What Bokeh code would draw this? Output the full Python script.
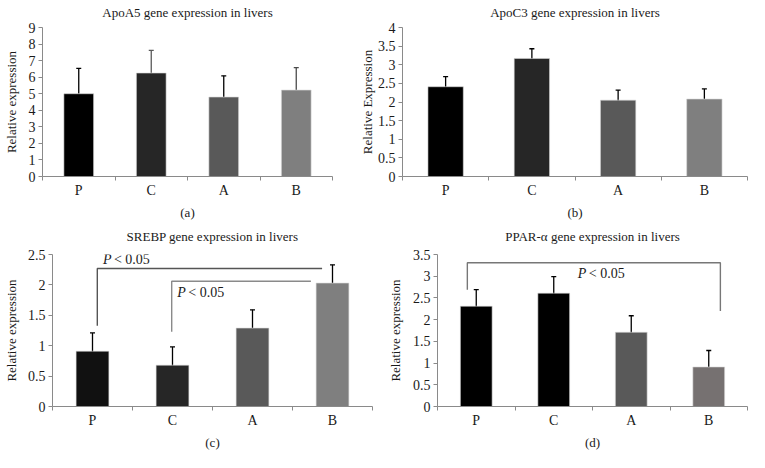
from bokeh.plotting import figure
from bokeh.models import (FixedTicker, Range1d, Whisker, TeeHead, ColumnDataSource, Title)
from bokeh.layouts import column, row
from bokeh.core.properties import value
from bokeh.embed import file_html
from bokeh.resources import INLINE

# ---------------- data ----------------
categories = ["P", "C", "A", "B"]

apoa5_vals = [5.0, 6.25, 4.8, 5.22]
apoa5_errs = [1.53, 1.37, 1.28, 1.36]
apoa5_ticks = [0, 1, 2, 3, 4, 5, 6, 7, 8, 9]

apoc3_vals = [2.41, 3.17, 2.05, 2.08]
apoc3_errs = [0.27, 0.26, 0.27, 0.27]
apoc3_ticks = [0, 0.5, 1, 1.5, 2, 2.5, 3, 3.5, 4]

srebp_vals = [0.91, 0.68, 1.29, 2.03]
srebp_errs = [0.30, 0.30, 0.30, 0.30]
srebp_ticks = [0, 0.5, 1, 1.5, 2, 2.5]

ppara_vals = [2.31, 2.61, 1.71, 0.91]
ppara_errs = [0.38, 0.38, 0.38, 0.38]
ppara_ticks = [0, 0.5, 1, 1.5, 2, 2.5, 3, 3.5]

# significance brackets: x_left, x_right, y_top, y_left_end, y_right_end, text_x, text_y
srebp_brackets = [
    (0.56, 3.37, 2.27, 1.33, 2.27, 0.63, 2.41),
    (1.49, 3.23, 2.06, 1.23, 2.06, 1.56, 1.88),
]
ppara_brackets = [
    (0.385, 3.65, 3.31, 2.69, 2.20, 1.81, 3.07),
]

FONT = "Liberation Serif"
AXIS_GRAY = "#8a8a8a"


def make_panel(title, ylabel, letter, vals, errs, ticks, colors, ecolors,
               width, height, left, right, top, bottom, both_caps=True,
               label_standoff=10, spacer_size="6px",
               brackets=None, bracket_colors=None):
    p = figure(width=width, height=height, output_backend="svg",
               toolbar_location=None, tools="", title=None,
               x_range=Range1d(0, len(categories)),
               y_range=Range1d(0, ticks[-1]),
               min_border_left=left, min_border_right=right,
               min_border_top=top, min_border_bottom=bottom)
    p.outline_line_color = None
    p.xgrid.visible = False
    p.ygrid.visible = False
    p.background_fill_color = "white"
    p.border_fill_color = "white"

    # small blank spacer between frame and title, then the title itself
    p.add_layout(Title(text=" ", text_font_size=spacer_size, standoff=0), "above")
    p.add_layout(Title(text=title, align="center", text_font=FONT,
                       text_font_style="normal", text_font_size="13px",
                       text_color="#1a1a1a", standoff=0), "above")

    xs = [i + 0.5 for i in range(len(categories))]
    upper = [v + e for v, e in zip(vals, errs)]
    lower = [v - e for v, e in zip(vals, errs)] if both_caps else list(vals)
    src = ColumnDataSource(dict(x=xs, top=vals, upper=upper, lower=lower,
                                color=colors, ecol=ecolors))
    p.vbar(x="x", top="top", width=0.41, bottom=0, source=src,
           fill_color="color", line_color="#d8d8d8", line_width=0.6)

    w = Whisker(base="x", upper="upper", lower="lower", source=src,
                line_color="ecol", line_width=1.3,
                upper_head=TeeHead(size=5, line_color="ecol", line_width=1.3),
                lower_head=(TeeHead(size=5, line_color="ecol", line_width=1.3)
                            if both_caps else None))
    p.add_layout(w)

    if brackets:
        for (xl, xr, yt, yl, yr, tx, ty), bc in zip(brackets, bracket_colors):
            p.line(x=[xl, xl, xr, xr], y=[yl, yt, yt, yr],
                   line_color=bc, line_width=1.4)
            p.text(x=[tx], y=[ty], text=["P"], text_font=value(FONT),
                   text_font_style="italic", text_font_size="14px",
                   text_baseline="middle", text_align="left",
                   text_color="#1a1a1a")
            p.text(x=[tx], y=[ty], text=["< 0.05"], text_font=value(FONT),
                   text_font_size="14px", x_offset=11,
                   text_baseline="middle", text_align="left",
                   text_color="#1a1a1a")

    # x axis: labels at centres, ticks at boundaries
    xa = p.xaxis[0]
    xa.ticker = FixedTicker(ticks=xs, minor_ticks=list(range(len(categories) + 1)))
    xa.major_label_overrides = {x: c for x, c in zip(xs, categories)}
    xa.major_tick_out = 0
    xa.major_tick_in = 0
    xa.minor_tick_out = 4
    xa.minor_tick_in = 0
    xa.axis_line_color = AXIS_GRAY
    xa.minor_tick_line_color = AXIS_GRAY
    xa.major_label_standoff = 2
    xa.major_label_text_font = FONT
    xa.major_label_text_font_size = "14px"
    xa.major_label_text_color = "#1a1a1a"
    xa.axis_label = letter
    xa.axis_label_text_font = FONT
    xa.axis_label_text_font_style = "normal"
    xa.axis_label_text_font_size = "13px"
    xa.axis_label_text_color = "#1a1a1a"
    xa.axis_label_standoff = 4

    ya = p.yaxis[0]
    ya.ticker = FixedTicker(ticks=ticks, minor_ticks=[])
    ya.major_label_overrides = {t: f"{t:g}" for t in ticks}
    ya.major_tick_out = 4
    ya.major_tick_in = 0
    ya.axis_line_color = AXIS_GRAY
    ya.major_tick_line_color = AXIS_GRAY
    ya.major_label_standoff = 3
    ya.major_label_text_font = FONT
    ya.major_label_text_font_size = "14px"
    ya.major_label_text_color = "#1a1a1a"
    ya.axis_label = ylabel
    ya.axis_label_text_font = FONT
    ya.axis_label_text_font_style = "normal"
    ya.axis_label_text_font_size = "13px"
    ya.axis_label_text_color = "#1a1a1a"
    ya.axis_label_standoff = label_standoff
    return p


pa = make_panel("ApoA5 gene expression in livers", "Relative expression", "(a)",
                apoa5_vals, apoa5_errs, apoa5_ticks,
                ["#000000", "#262626", "#595959", "#7f7f7f"],
                ["#000000", "#5a5a5a", "#000000", "#4a4a4a"],
                356, 226, 39, 24, 27, 50, both_caps=False, label_standoff=7)
pb = make_panel("ApoC3 gene expression in livers", "Relative Expression", "(b)",
                apoc3_vals, apoc3_errs, apoc3_ticks,
                ["#000000", "#262626", "#595959", "#7f7f7f"],
                ["#000000"] * 4,
                393, 226, 38, 2, 27, 50, label_standoff=0)
pc = make_panel("SREBP gene expression in livers", "Relative expression", "(c)",
                srebp_vals, srebp_errs, srebp_ticks,
                ["#111111", "#262626", "#595959", "#7f7f7f"],
                ["#000000"] * 4,
                384, 226, 44, 12, 25, 45, label_standoff=6, spacer_size="8px",
                brackets=srebp_brackets, bracket_colors=["#555555", "#8a8a8a"])
pd_ = make_panel("PPAR-\u03b1 gene expression in livers", "Relative expression", "(d)",
                 ppara_vals, ppara_errs, ppara_ticks,
                 ["#000000", "#000000", "#595959", "#767171"],
                 ["#000000"] * 4,
                 365, 226, 51, 2, 26, 45, label_standoff=7, spacer_size="8px",
                 brackets=ppara_brackets, bracket_colors=["#777777"])

layout = column(row(pa, pb), row(pc, pd_))
open("out.html", "w").write(file_html(layout, INLINE))
